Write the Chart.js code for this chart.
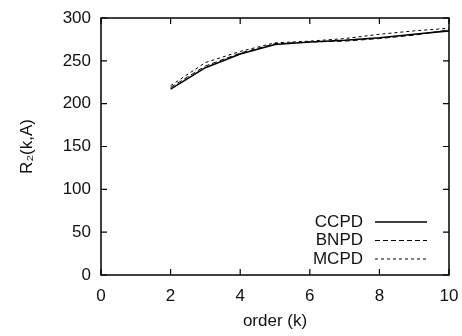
<!DOCTYPE html>
<html>
<head>
<meta charset="utf-8">
<script src="https://cdn.jsdelivr.net/npm/chart.js@4"></script>
<style>
  body { margin: 0; background: #fff; }
  canvas { display: block; }
</style>
</head>
<body>
<canvas id="c" width="462" height="336"></canvas>
<script>
// data
const orders = [2, 3, 4, 5, 6, 7, 8, 9, 10]
const ccpd = [217, 242, 258, 269, 272, 274, 277, 281, 285]
const bnpd = [219, 244, 259, 270, 272, 273, 276, 280, 286]
const mcpd = [221, 248, 261, 271, 273, 276, 281, 285, 288]
const xTicks = [0, 2, 4, 6, 8, 10]
const yTicks = [0, 50, 100, 150, 200, 250, 300]

const font = { family: "'Liberation Sans', Arial, sans-serif", size: 17 }

const pts = (ys) => orders.map((x, i) => ({ x: x, y: ys[i] }))

// inward ticks on all four sides + legend inside the plot
const frame = {
  id: 'frame',
  afterDraw(chart) {
    const ctx = chart.ctx
    const a = chart.chartArea
    const xs = chart.scales.x
    const ys = chart.scales.y
    ctx.save()
    ctx.strokeStyle = '#000'
    ctx.lineWidth = 1.5
    ctx.strokeRect(a.left, a.top, a.right - a.left, a.bottom - a.top)
    ctx.lineWidth = 1.2
    xTicks.forEach(v => {
      const p = xs.getPixelForValue(v)
      ctx.beginPath()
      ctx.moveTo(p, a.bottom); ctx.lineTo(p, a.bottom - 6)
      ctx.moveTo(p, a.top); ctx.lineTo(p, a.top + 6)
      ctx.stroke()
    })
    yTicks.forEach(v => {
      const p = ys.getPixelForValue(v)
      ctx.beginPath()
      ctx.moveTo(a.left, p); ctx.lineTo(a.left + 6, p)
      ctx.moveTo(a.right, p); ctx.lineTo(a.right - 6, p)
      ctx.stroke()
    })
    // legend
    ctx.font = '17px ' + font.family
    ctx.fillStyle = '#111'
    ctx.textAlign = 'right'
    ctx.textBaseline = 'middle'
    chart.data.datasets.forEach((ds, i) => {
      const y = a.bottom - 53 + i * 18.5
      ctx.fillText(ds.label, a.right - 86, y)
      ctx.setLineDash(ds.borderDash || [])
      ctx.lineWidth = ds.borderWidth
      ctx.beginPath()
      ctx.moveTo(a.right - 74, y); ctx.lineTo(a.right - 22, y)
      ctx.stroke()
    })
    ctx.restore()
  }
}

new Chart(document.getElementById('c').getContext('2d'), {
  type: 'line',
  data: {
    datasets: [
      { label: 'CCPD', data: pts(ccpd), borderColor: '#000', borderWidth: 1.6, pointRadius: 0, tension: 0 },
      { label: 'BNPD', data: pts(bnpd), borderColor: '#000', borderWidth: 1, borderDash: [5, 3], pointRadius: 0, tension: 0 },
      { label: 'MCPD', data: pts(mcpd), borderColor: '#000', borderWidth: 1, borderDash: [3, 3], pointRadius: 0, tension: 0 },
    ],
  },
  options: {
    responsive: false,
    animation: false,
    layout: { padding: { top: 18, right: 13, left: 0, bottom: 0 } },
    plugins: { legend: { display: false }, tooltip: { enabled: false } },
    scales: {
      x: {
        type: 'linear', min: 0, max: 10,
        afterBuildTicks: s => { s.ticks = xTicks.map(v => ({ value: v })) },
        afterFit: s => { s.height = 61; s.paddingLeft = 0; s.paddingRight = 0 },
        grid: { display: false, drawTicks: false },
        border: { display: false },
        ticks: { color: '#111', font: font, padding: 11, maxRotation: 0 },
        title: { display: true, text: 'order (k)', color: '#111', font: font, padding: { top: 2 } },
      },
      y: {
        min: 0, max: 300,
        afterBuildTicks: s => { s.ticks = yTicks.map(v => ({ value: v })) },
        afterFit: s => { s.width = 101; s.paddingTop = 0; s.paddingBottom = 0 },
        grid: { display: false, drawTicks: false },
        border: { display: false },
        ticks: { color: '#111', font: font, padding: 10 },
        title: { display: true, text: 'R₂(k,A)', color: '#111', font: font, padding: { top: 17, bottom: 10 } },
      },
    },
  },
  plugins: [frame],
})
</script>
</body>
</html>
